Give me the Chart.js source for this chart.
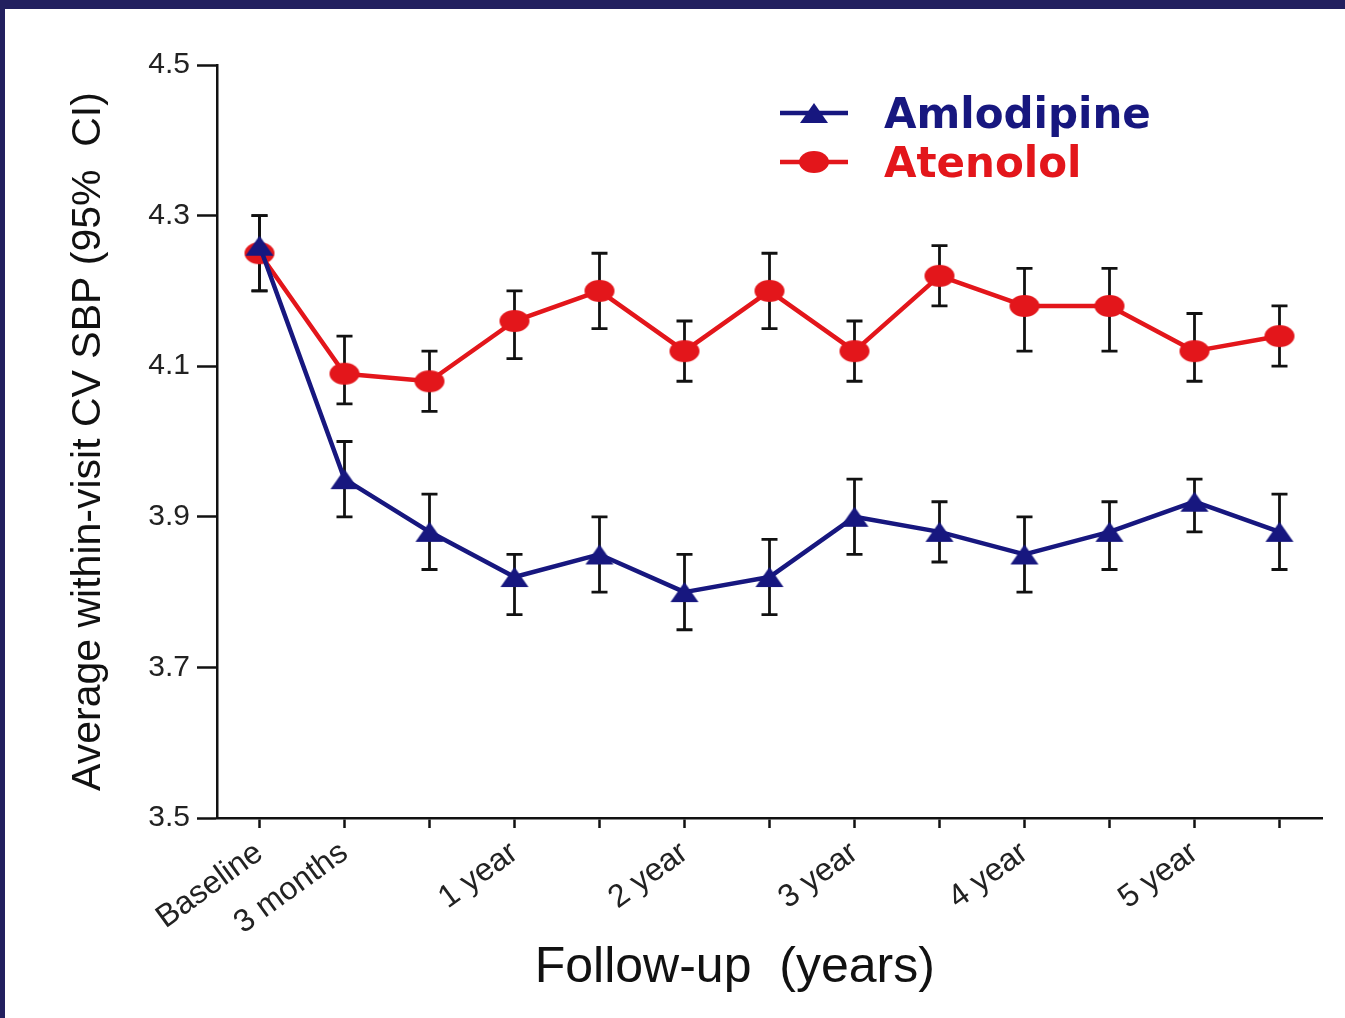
<!DOCTYPE html>
<html>
<head>
<meta charset="utf-8">
<title>Within-visit SBP variability</title>
<script src="https://cdn.jsdelivr.net/npm/chart.js@4.4.0/dist/chart.umd.min.js"></script>
<style>
  html, body { margin: 0; padding: 0; background: #ffffff; }
  #frame {
    position: absolute; left: 0; top: 0;
    width: 1345px; height: 1018px; box-sizing: border-box;
    border-top: 9px solid #22205f; border-left: 5px solid #22205f;
    background: #ffffff;
  }
  #chart { display: block; }
</style>
</head>
<body>
<div id="frame"><canvas id="chart" width="1340" height="1009"></canvas></div>
<script>
// Follow-up visits (only some carry a printed label)
const followUpLabels = ['Baseline', '3 months', '', '1 year', '', '2 year', '', '3 year', '', '4 year', '', '5 year', ''];

// Amlodipine: mean within-visit CV of SBP with 95% CI
const amlodipineMean  = [4.26, 3.95, 3.88, 3.82, 3.85, 3.80, 3.82, 3.90, 3.88, 3.85, 3.88, 3.92, 3.88];
const amlodipineLower = [4.20, 3.90, 3.83, 3.77, 3.80, 3.75, 3.77, 3.85, 3.84, 3.80, 3.83, 3.88, 3.83];
const amlodipineUpper = [4.30, 4.00, 3.93, 3.85, 3.90, 3.85, 3.87, 3.95, 3.92, 3.90, 3.92, 3.95, 3.93];

// Atenolol: mean within-visit CV of SBP with 95% CI
const atenololMean  = [4.25, 4.09, 4.08, 4.16, 4.20, 4.12, 4.20, 4.12, 4.22, 4.18, 4.18, 4.12, 4.14];
const atenololLower = [4.20, 4.05, 4.04, 4.11, 4.15, 4.08, 4.15, 4.08, 4.18, 4.12, 4.12, 4.08, 4.10];
const atenololUpper = [4.30, 4.14, 4.12, 4.20, 4.25, 4.16, 4.25, 4.16, 4.26, 4.23, 4.23, 4.17, 4.18];

// Y axis tick values
const yTickValues = [3.5, 3.7, 3.9, 4.1, 4.3, 4.5];

const NAVY = '#17177f';
const RED = '#e3161b';
const INK = '#111111';

Chart.defaults.font.family = '"Liberation Sans", Arial, Helvetica, sans-serif';

// Marker bitmaps: a filled triangle and a filled (slightly wide) dot
function triangleMarker(color) {
  const c = document.createElement('canvas');
  c.width = 30; c.height = 22;
  const g = c.getContext('2d');
  g.fillStyle = color;
  g.beginPath();
  g.moveTo(15, 1); g.lineTo(29, 21); g.lineTo(1, 21);
  g.closePath();
  g.fill();
  return c;
}
function dotMarker(color) {
  const c = document.createElement('canvas');
  c.width = 32; c.height = 24;
  const g = c.getContext('2d');
  g.fillStyle = color;
  g.beginPath();
  g.ellipse(16, 12, 15, 11, 0, 0, Math.PI * 2);
  g.fill();
  return c;
}

// Vertical CI whiskers with caps, drawn under the markers
const errorBars = {
  id: 'errorBars',
  beforeDatasetsDraw(chart, args, opts) {
    const ctx = chart.ctx;
    const yScale = chart.scales.y;
    ctx.save();
    ctx.strokeStyle = opts.color;
    ctx.lineWidth = opts.width;
    chart.data.datasets.forEach((ds, i) => {
      const meta = chart.getDatasetMeta(i);
      meta.data.forEach((pt, j) => {
        const x = pt.x;
        const yLo = yScale.getPixelForValue(ds.ciLower[j]);
        const yHi = yScale.getPixelForValue(ds.ciUpper[j]);
        ctx.beginPath();
        ctx.moveTo(x, yLo); ctx.lineTo(x, yHi);
        ctx.moveTo(x - opts.cap, yLo); ctx.lineTo(x + opts.cap, yLo);
        ctx.moveTo(x - opts.cap, yHi); ctx.lineTo(x + opts.cap, yHi);
        ctx.stroke();
      });
    });
    ctx.restore();
  }
};

// Legend placed inside the plot area, text coloured like each series
const insetLegend = {
  id: 'insetLegend',
  afterDatasetsDraw(chart, args, opts) {
    const ctx = chart.ctx;
    const area = chart.chartArea;
    chart.data.datasets.forEach((ds, i) => {
      const x = area.left + opts.dx;
      const y = area.top + opts.dy + i * opts.rowGap;
      ctx.save();
      ctx.strokeStyle = ds.borderColor;
      ctx.lineWidth = ds.borderWidth;
      ctx.beginPath();
      ctx.moveTo(x, y); ctx.lineTo(x + opts.sampleLength, y);
      ctx.stroke();
      const img = ds.pointStyle;
      ctx.drawImage(img, x + opts.sampleLength / 2 - img.width / 2, y - img.height / 2);
      ctx.font = opts.font;
      ctx.fillStyle = ds.borderColor;
      ctx.textBaseline = 'alphabetic';
      ctx.textAlign = 'left';
      ctx.fillText(ds.label, x + opts.textOffset, y + opts.baselineShift);
      ctx.restore();
    });
  }
};

new Chart(document.getElementById('chart'), {
  type: 'line',
  data: {
    labels: followUpLabels,
    datasets: [
      {
        label: 'Amlodipine',
        data: amlodipineMean,
        ciLower: amlodipineLower,
        ciUpper: amlodipineUpper,
        borderColor: NAVY,
        backgroundColor: NAVY,
        borderWidth: 4.5,
        pointStyle: triangleMarker(NAVY),
        pointRadius: 12,
        tension: 0,
        fill: false
      },
      {
        label: 'Atenolol',
        data: atenololMean,
        ciLower: atenololLower,
        ciUpper: atenololUpper,
        borderColor: RED,
        backgroundColor: RED,
        borderWidth: 4.5,
        pointStyle: dotMarker(RED),
        pointRadius: 12,
        tension: 0,
        fill: false
      }
    ]
  },
  options: {
    responsive: false,
    animation: false,
    devicePixelRatio: 1,
    layout: { padding: { left: 0, top: 56, right: 23, bottom: 0 } },
    elements: { line: { borderJoinStyle: 'round', borderCapStyle: 'round' } },
    plugins: {
      legend: { display: false },
      tooltip: { enabled: false },
      errorBars: { color: INK, width: 2.8, cap: 8 },
      insetLegend: {
        dx: 563, dy: 48, rowGap: 49, sampleLength: 68, textOffset: 104,
        baselineShift: 15, font: 'bold 42px "DejaVu Sans", Arial, sans-serif'
      }
    },
    scales: {
      x: {
        type: 'category',
        offset: true,
        grid: { drawOnChartArea: false, offset: false, tickLength: 10, tickWidth: 2.5, tickColor: INK },
        border: { color: INK, width: 2.5 },
        ticks: { autoSkip: false, minRotation: 36, maxRotation: 36, padding: 6, color: '#222222', font: { size: 32 } },
        title: {
          display: true,
          text: 'Follow-up  (years)\u00a0\u00a0\u00a0\u00a0\u00a0',
          color: INK,
          font: { size: 50 },
          padding: { top: 0, bottom: 20 }
        },
        afterFit(scale) { scale.height = 200; }
      },
      y: {
        min: 3.5,
        max: 4.5,
        afterBuildTicks(scale) { scale.ticks = yTickValues.map(v => ({ value: v })); },
        grid: { drawOnChartArea: false, tickLength: 20, tickWidth: 2.5, tickColor: INK },
        border: { color: INK, width: 2.5 },
        ticks: { padding: 7, color: '#222222', font: { size: 30 }, callback: v => Number(v).toFixed(1) },
        title: {
          display: true,
          text: 'Average within-visit CV SBP (95%  CI)',
          color: INK,
          font: { size: 41 },
          padding: { top: 59, bottom: 0 }
        },
        afterFit(scale) { scale.width = 212; }
      }
    }
  },
  plugins: [errorBars, insetLegend]
});
</script>
</body>
</html>
